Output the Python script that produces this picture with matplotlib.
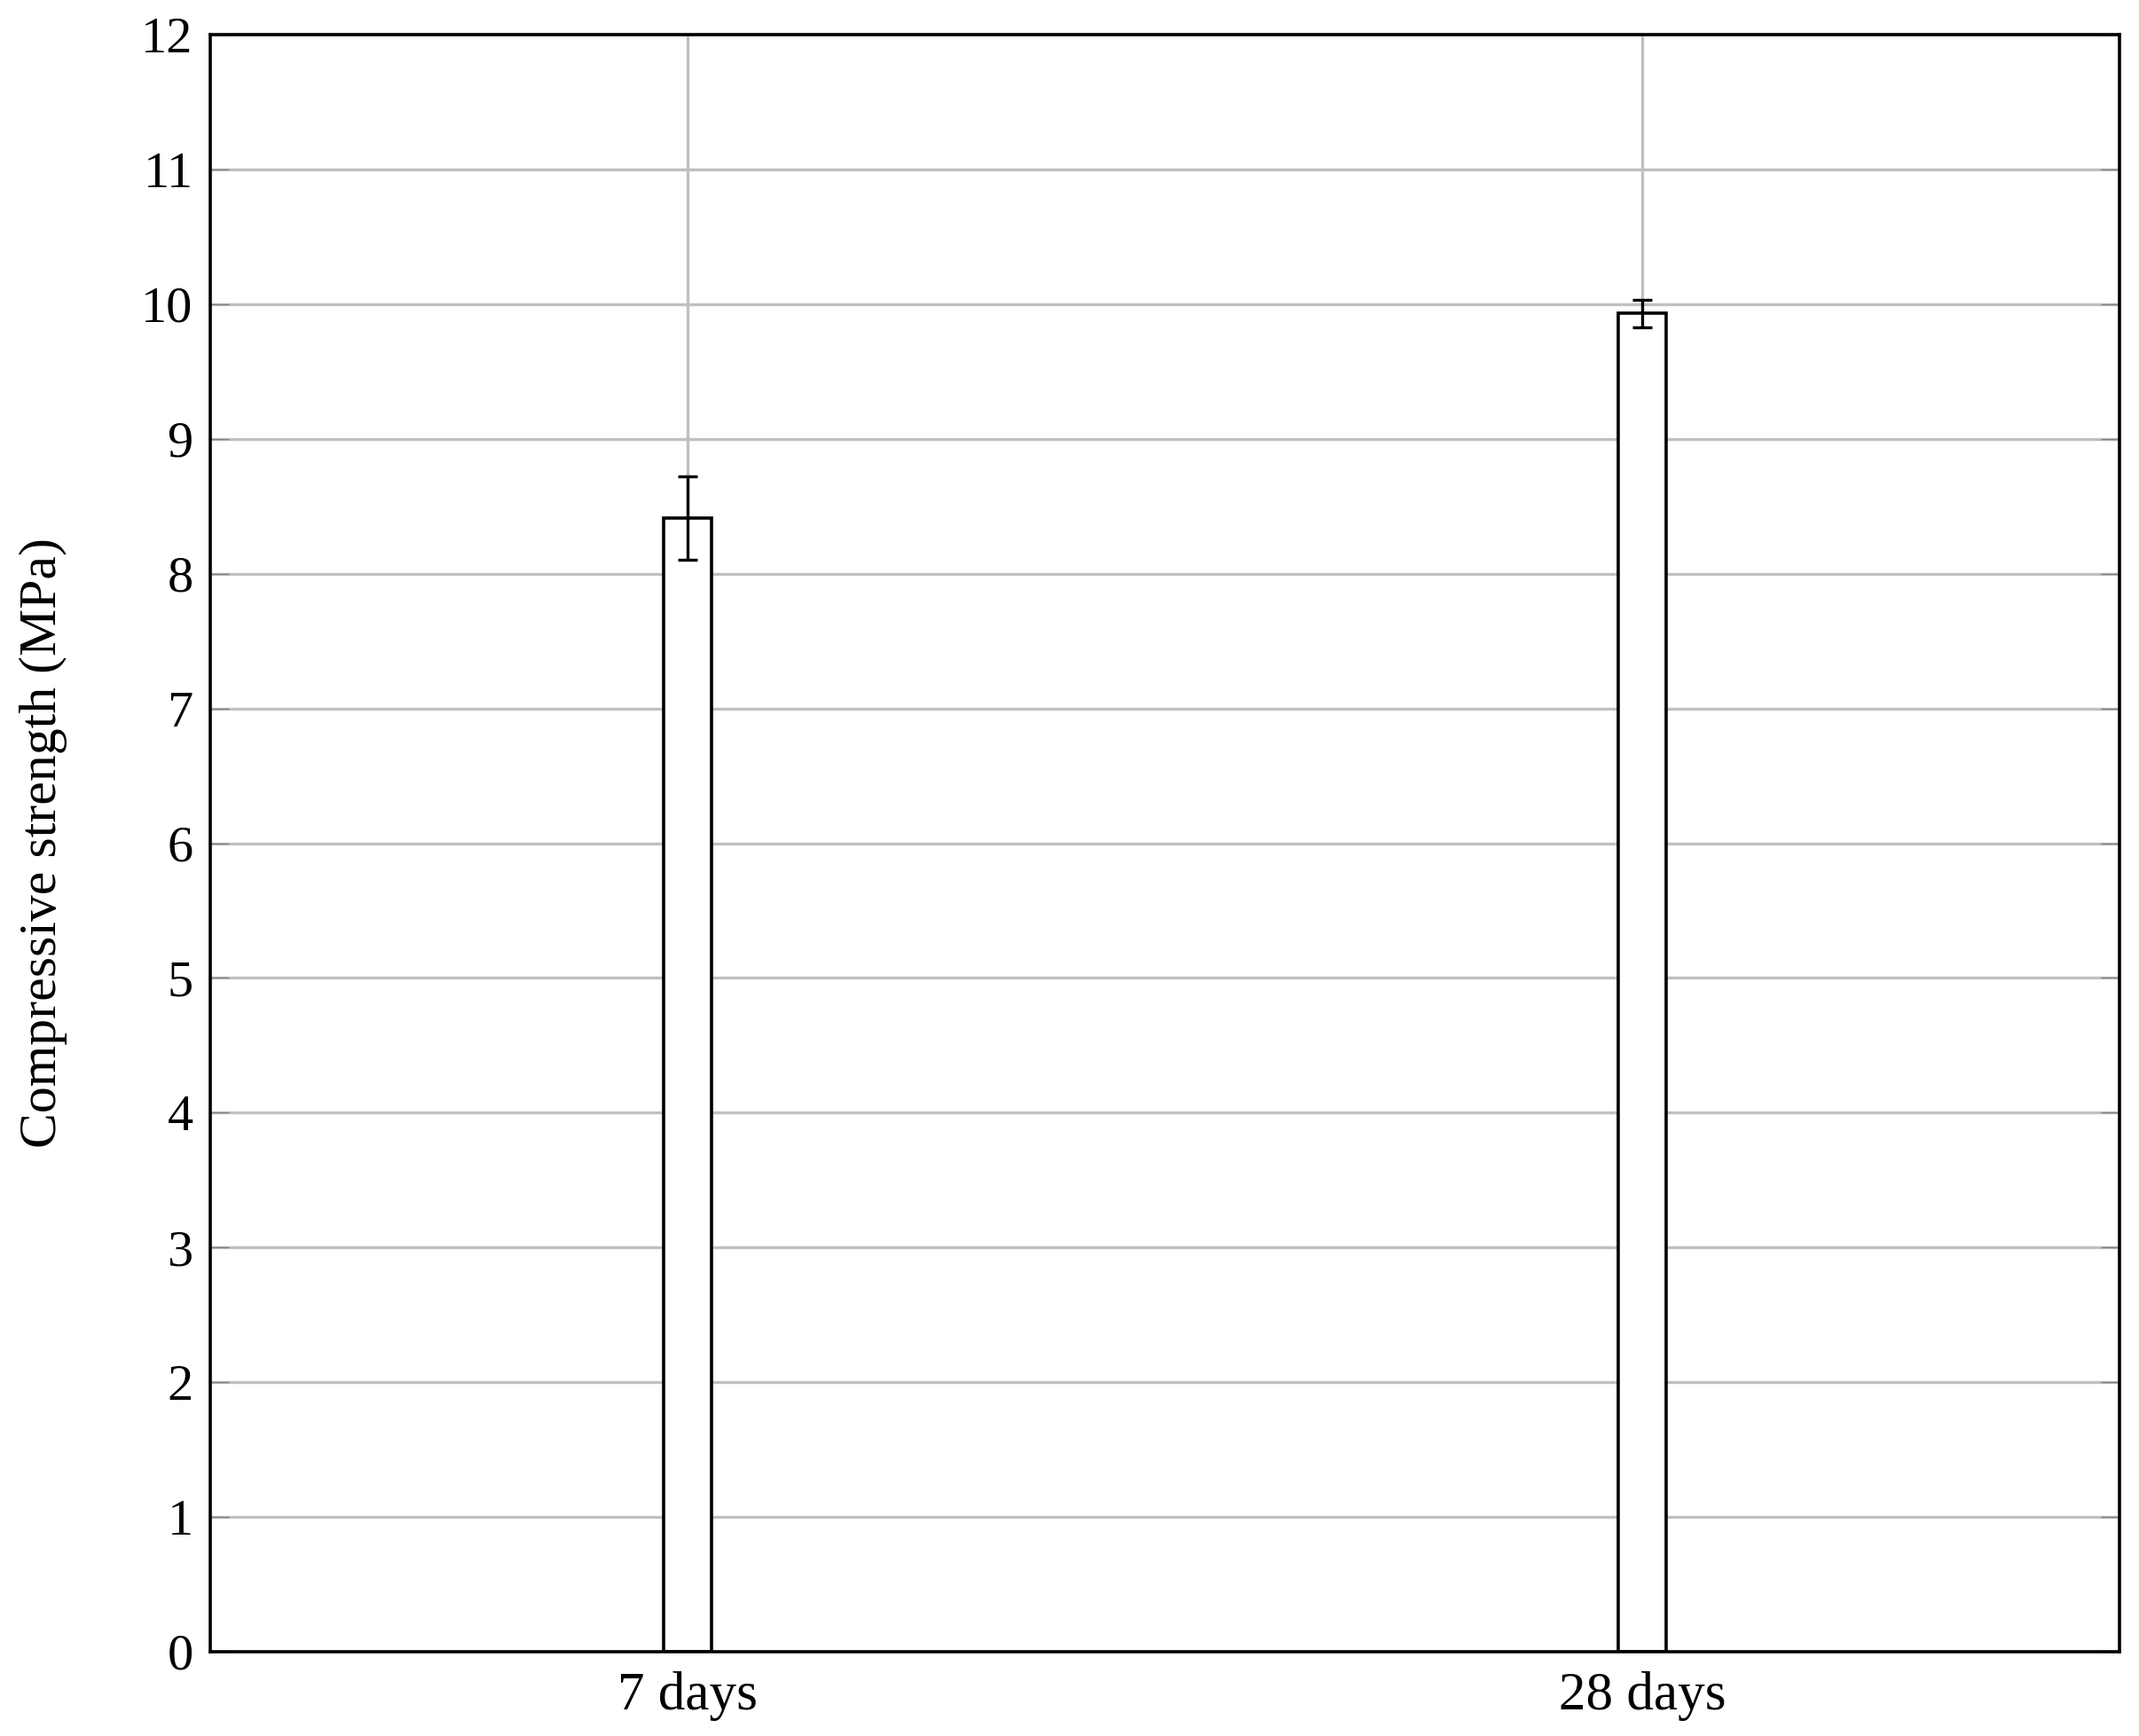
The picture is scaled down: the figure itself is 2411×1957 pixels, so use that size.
import matplotlib
matplotlib.use("Agg")
import matplotlib.pyplot as plt
import numpy as np

# compressive strength data
ages = ["7 days", "28 days"]
strength = [8.41, 9.93]
strength_err = [0.31, 0.10]

plt.rcParams['font.family'] = ['Liberation Serif', 'DejaVu Serif']
plt.rcParams['font.size'] = 21

fig = plt.figure(figsize=(2411 / 200, 1957 / 200), dpi=200)
ax = fig.add_axes([237 / 2411, 1 - 1862 / 1957, (2389 - 237) / 2411, (1862 - 39) / 1957])

x = np.arange(len(ages))
ax.bar(x, strength, width=0.05, color='white', edgecolor='black', linewidth=1.3, zorder=3)
ax.errorbar(x, strength, yerr=strength_err, fmt='none', ecolor='black',
            elinewidth=1.2, capsize=4, capthick=1.2, zorder=4)

ax.set_xlim(-0.5, 1.5)
ax.set_ylim(0, 12)
ax.set_xticks(x)
ax.set_xticklabels(ages, fontsize=22)
ax.set_yticks(np.arange(0, 13, 1))

ax.grid(True, color='#c0c0c0', linewidth=1.2, zorder=0)
ax.set_axisbelow(True)
for s in ax.spines.values():
    s.set_linewidth(1.3)
    s.set_zorder(5)

ax.tick_params(axis='y', direction='in', left=True, right=True, length=7.5,
               width=0.5, color='#808080', pad=7)
ax.tick_params(axis='x', length=0, pad=8)

ax.set_ylabel("Compressive strength (MPa)", fontsize=21.5, labelpad=30)

fig.savefig("out.png", dpi=200)
